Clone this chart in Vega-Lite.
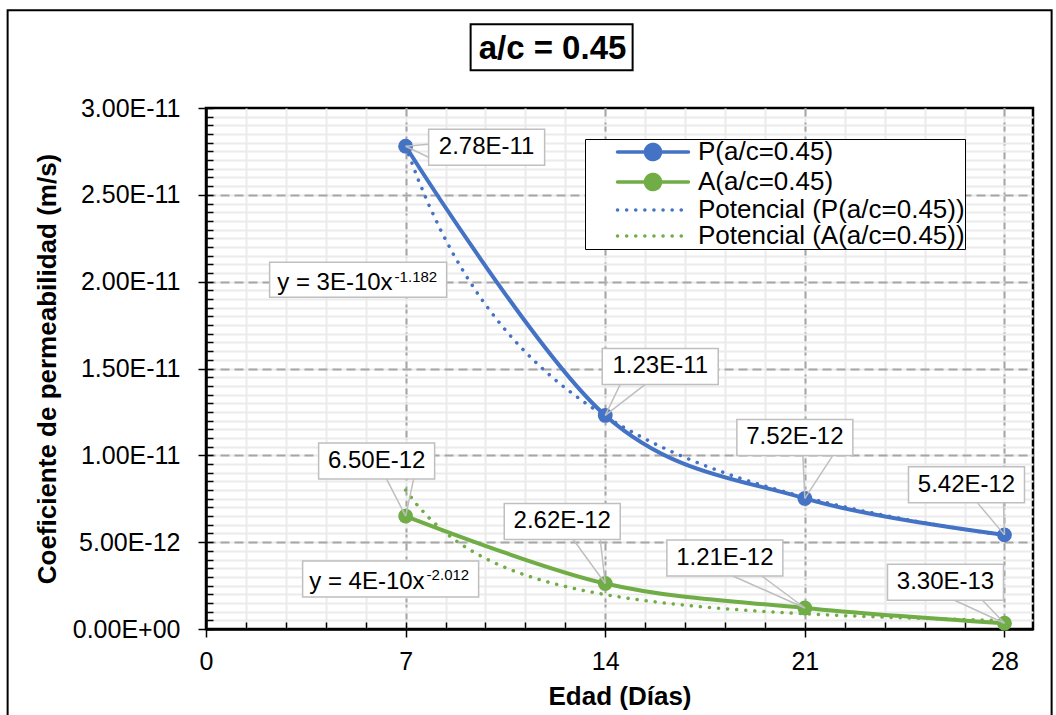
{
  "$schema": "https://vega.github.io/schema/vega-lite/v6.json",
  "width": 827,
  "height": 521,
  "autosize": {"type": "none"},
  "padding": {"left": 206, "top": 108, "right": 23, "bottom": 86},
  "background": "white",
  "config": {"font": "Liberation Sans", "view": {"stroke": "black", "strokeWidth": 2.5}},
  "title": {"text": "a/c = 0.45", "fontSize": 33, "font": "Liberation Sans", "fontWeight": "bold", "color": "black", "anchor": "middle", "frame": "group", "dx": -67, "offset": -57},
  "data": {"values": [
    {"dia": 7, "valor": 2.78e-11, "serie": "P(a/c=0.45)", "tend": "Potencial (P(a/c=0.45))"},
    {"dia": 14, "valor": 1.23e-11, "serie": "P(a/c=0.45)", "tend": "Potencial (P(a/c=0.45))"},
    {"dia": 21, "valor": 7.52e-12, "serie": "P(a/c=0.45)", "tend": "Potencial (P(a/c=0.45))"},
    {"dia": 28, "valor": 5.42e-12, "serie": "P(a/c=0.45)", "tend": "Potencial (P(a/c=0.45))"},
    {"dia": 7, "valor": 6.5e-12, "serie": "A(a/c=0.45)", "tend": "Potencial (A(a/c=0.45))"},
    {"dia": 14, "valor": 2.62e-12, "serie": "A(a/c=0.45)", "tend": "Potencial (A(a/c=0.45))"},
    {"dia": 21, "valor": 1.21e-12, "serie": "A(a/c=0.45)", "tend": "Potencial (A(a/c=0.45))"},
    {"dia": 28, "valor": 3.3e-13, "serie": "A(a/c=0.45)", "tend": "Potencial (A(a/c=0.45))"}
  ]},
  "resolve": {"axis": {"x": "independent", "y": "independent"}},
  "layer": [
    {
      "transform": [{"regression": "valor", "on": "dia", "groupby": ["tend"], "method": "pow", "extent": [7, 28]}],
      "mark": {"type": "line", "strokeWidth": 3.5, "strokeDash": [0.1, 9], "strokeCap": "round"},
      "encoding": {
        "x": {"field": "dia", "type": "quantitative", "scale": {"domain": [0, 29], "nice": false, "zero": false},
          "axis": {"orient": "bottom", "values": [1.4, 2.8, 4.2, 5.6, 7, 8.4, 9.8, 11.2, 12.6, 14, 15.4, 16.8, 18.2, 19.6, 21, 22.4, 23.8, 25.2, 26.6, 28],
            "grid": true, "gridColor": "#ebebeb", "gridWidth": 2, "labels": false, "domain": false, "ticks": true, "tickSize": -7, "tickColor": "black", "tickWidth": 1.5, "title": null}},
        "y": {"field": "valor", "type": "quantitative", "scale": {"domain": [0, 3e-11], "nice": false, "zero": false},
          "axis": {"orient": "left", "tickCount": 60, "grid": true,
            "gridColor": {"condition": {"test": "datum.value <= 1e-14 || datum.value >= 2.99e-11", "value": "rgba(0,0,0,0)"}, "value": "#ebebeb"},
            "gridWidth": 2, "labels": false, "domain": false, "ticks": true, "tickSize": -7, "tickColor": "black", "tickWidth": 1.5, "title": null}},
        "stroke": {"field": "tend", "type": "nominal", "legend": null,
          "scale": {"domain": ["Potencial (P(a/c=0.45))", "Potencial (A(a/c=0.45))"], "range": ["#4472C4", "#70AD47"]}}
      }
    },
    {
      "mark": {"type": "line", "interpolate": "cardinal", "strokeWidth": 4},
      "encoding": {
        "x": {"field": "dia", "type": "quantitative",
          "axis": {"orient": "bottom", "values": [0, 7, 14, 21, 28], "grid": true,
            "gridColor": {"condition": {"test": "datum.value <= 0.01", "value": "rgba(0,0,0,0)"}, "value": "#a6a6a6"},
            "gridDash": [9, 5], "gridWidth": 2, "domain": true, "domainColor": "black", "domainWidth": 2.5,
            "ticks": true, "tickSize": 8, "tickColor": "black", "tickWidth": 1.5,
            "labelFont": "Liberation Sans", "labelFontSize": 25, "labelColor": "black", "labelPadding": 12, "labelFlush": false, "labelOverlap": false,
            "title": "Edad (Días)", "titleFont": "Liberation Sans", "titleFontSize": 26, "titleFontWeight": "bold", "titleColor": "black", "titlePadding": 9}},
        "y": {"field": "valor", "type": "quantitative",
          "axis": {"orient": "left", "values": [0, 5e-12, 1e-11, 1.5e-11, 2e-11, 2.5e-11, 3e-11], "grid": true,
            "gridColor": {"condition": {"test": "datum.value <= 1e-14 || datum.value >= 2.99e-11", "value": "rgba(0,0,0,0)"}, "value": "#a6a6a6"},
            "gridDash": [9, 5], "gridWidth": 2, "domain": true, "domainColor": "black", "domainWidth": 2.5,
            "ticks": true, "tickSize": 8, "tickColor": "black", "tickWidth": 1.5,
            "labelExpr": "datum.value == 0 ? '0.00E+00' : upper(format(datum.value, '.2e'))",
            "labelFont": "Liberation Sans", "labelFontSize": 25, "labelColor": "black", "labelPadding": 18, "labelOverlap": false,
            "title": "Coeficiente de permeabilidad (m/s)", "titleFont": "Liberation Sans", "titleFontSize": 26, "titleFontWeight": "bold", "titleColor": "black", "titlePadding": 12}},
        "color": {"field": "serie", "type": "nominal",
          "scale": {"domain": ["P(a/c=0.45)", "A(a/c=0.45)", "Potencial (P(a/c=0.45))", "Potencial (A(a/c=0.45))"], "range": ["#4472C4", "#70AD47", "#4472C4", "#70AD47"]},
          "legend": {"orient": "none", "legendX": 379, "legendY": 31, "title": null,
            "labelFont": "Liberation Sans", "labelFontSize": 26, "labelColor": "black", "labelLimit": 0,
            "symbolSize": 400, "symbolStrokeWidth": 3.5, "strokeColor": "black", "fillColor": "white",
            "padding": 0, "rowPadding": 0, "labelOffset": 32, "symbolOffset": 55,
            "encode": {
              "symbols": {"update": {
              "shape": {"signal": "indexof(datum.value, 'Potencial') >= 0 ? 'M-3.55,0L3.55,0' : 'M-3.55,0L3.55,0M-0.75,0A0.75,0.75,0,1,0,0.75,0A0.75,0.75,0,1,0,-0.75,0'"},
              "fill": {"scale": "color", "field": "value"},
              "stroke": {"scale": "color", "field": "value"},
              "strokeDash": {"signal": "indexof(datum.value, 'Potencial') >= 0 ? [0.1, 9] : [1, 0]"},
              "strokeCap": {"value": "round"},
              "strokeWidth": {"value": 3.5},
              "size": {"value": 400},
              "opacity": {"value": 1}
            }}}}}
      }
    },
    {
      "mark": {"type": "circle", "size": 220, "opacity": 1},
      "encoding": {
        "x": {"field": "dia", "type": "quantitative", "axis": null},
        "y": {"field": "valor", "type": "quantitative", "axis": null},
        "fill": {"field": "serie", "type": "nominal", "legend": null,
          "scale": {"domain": ["P(a/c=0.45)", "A(a/c=0.45)"], "range": ["#4472C4", "#70AD47"]}}
      }
    },
    {
      "transform": [{"filter": "datum.serie == 'P(a/c=0.45)' && datum.dia == 7"}],
      "encoding": {"x": {"field": "dia", "type": "quantitative", "axis": null}, "y": {"field": "valor", "type": "quantitative", "axis": null}},
      "layer": [
        {"mark": {"type": "rect", "fill": null, "fillOpacity": 0, "stroke": "black", "strokeWidth": 2, "xOffset": 65, "x2Offset": 227, "yOffset": -122, "y2Offset": -76, "clip": false}, "encoding": {"x2": {"field": "dia"}, "y2": {"field": "valor"}}},
        {"mark": {"type": "rect", "fill": null, "fillOpacity": 0, "stroke": "black", "strokeWidth": 2, "xOffset": -398, "x2Offset": 646, "yOffset": -136, "y2Offset": 580, "clip": false}, "encoding": {"x2": {"field": "dia"}, "y2": {"field": "valor"}}},
        {"mark": {"type": "rule", "stroke": "#bfbfbf", "strokeWidth": 1.5, "x2Offset": 23, "y2Offset": -2}, "encoding": {"x2": {"field": "dia"}, "y2": {"field": "valor"}}},
        {"mark": {"type": "rule", "stroke": "#bfbfbf", "strokeWidth": 1.5, "x2Offset": 23, "y2Offset": 11}, "encoding": {"x2": {"field": "dia"}, "y2": {"field": "valor"}}},
        {"mark": {"type": "rect", "fill": "white", "stroke": "#bfbfbf", "strokeWidth": 1.5, "xOffset": 23, "x2Offset": 139, "yOffset": -17, "y2Offset": 19}, "encoding": {"x2": {"field": "dia"}, "y2": {"field": "valor"}}},
        {"mark": {"type": "text", "dx": 81, "dy": 1, "fontSize": 24, "font": "Liberation Sans", "color": "black", "text": {"expr": "upper(format(datum.valor, '.2e'))"}}},
        {"mark": {"type": "rect", "fill": "white", "stroke": "#bfbfbf", "strokeWidth": 1.5, "xOffset": -136, "x2Offset": 41, "yOffset": 116, "y2Offset": 151}, "encoding": {"x2": {"field": "dia"}, "y2": {"field": "valor"}}},
        {"mark": {"type": "text", "align": "right", "baseline": "alphabetic", "dx": -13, "dy": 144, "fontSize": 24, "font": "Liberation Sans", "color": "black", "text": "y = 3E-10x"}},
        {"mark": {"type": "text", "align": "left", "baseline": "alphabetic", "dx": -11, "dy": 136, "fontSize": 15, "font": "Liberation Sans", "color": "black", "text": "-1.182"}}
      ]
    },
    {
      "transform": [{"filter": "datum.serie == 'P(a/c=0.45)' && datum.dia == 14"}],
      "encoding": {"x": {"field": "dia", "type": "quantitative", "axis": null}, "y": {"field": "valor", "type": "quantitative", "axis": null}},
      "layer": [
        {"mark": {"type": "rule", "stroke": "#bfbfbf", "strokeWidth": 1.5, "x2Offset": 15, "y2Offset": -31}, "encoding": {"x2": {"field": "dia"}, "y2": {"field": "valor"}}},
        {"mark": {"type": "rule", "stroke": "#bfbfbf", "strokeWidth": 1.5, "x2Offset": 40, "y2Offset": -31}, "encoding": {"x2": {"field": "dia"}, "y2": {"field": "valor"}}},
        {"mark": {"type": "rect", "fill": "white", "stroke": "#bfbfbf", "strokeWidth": 1.5, "xOffset": -3, "x2Offset": 113, "yOffset": -67, "y2Offset": -31}, "encoding": {"x2": {"field": "dia"}, "y2": {"field": "valor"}}},
        {"mark": {"type": "text", "dx": 55, "dy": -49, "fontSize": 24, "font": "Liberation Sans", "color": "black", "text": {"expr": "upper(format(datum.valor, '.2e'))"}}}
      ]
    },
    {
      "transform": [{"filter": "datum.serie == 'P(a/c=0.45)' && datum.dia == 21"}],
      "encoding": {"x": {"field": "dia", "type": "quantitative", "axis": null}, "y": {"field": "valor", "type": "quantitative", "axis": null}},
      "layer": [
        {"mark": {"type": "rule", "stroke": "#bfbfbf", "strokeWidth": 1.5, "x2Offset": -2, "y2Offset": -43}, "encoding": {"x2": {"field": "dia"}, "y2": {"field": "valor"}}},
        {"mark": {"type": "rule", "stroke": "#bfbfbf", "strokeWidth": 1.5, "x2Offset": 28, "y2Offset": -43}, "encoding": {"x2": {"field": "dia"}, "y2": {"field": "valor"}}},
        {"mark": {"type": "rect", "fill": "white", "stroke": "#bfbfbf", "strokeWidth": 1.5, "xOffset": -68, "x2Offset": 48, "yOffset": -79, "y2Offset": -43}, "encoding": {"x2": {"field": "dia"}, "y2": {"field": "valor"}}},
        {"mark": {"type": "text", "dx": -10, "dy": -61, "fontSize": 24, "font": "Liberation Sans", "color": "black", "text": {"expr": "upper(format(datum.valor, '.2e'))"}}}
      ]
    },
    {
      "transform": [{"filter": "datum.serie == 'P(a/c=0.45)' && datum.dia == 28"}],
      "encoding": {"x": {"field": "dia", "type": "quantitative", "axis": null}, "y": {"field": "valor", "type": "quantitative", "axis": null}},
      "layer": [
        {"mark": {"type": "rule", "stroke": "#bfbfbf", "strokeWidth": 1.5, "x2Offset": -27, "y2Offset": -32}, "encoding": {"x2": {"field": "dia"}, "y2": {"field": "valor"}}},
        {"mark": {"type": "rule", "stroke": "#bfbfbf", "strokeWidth": 1.5, "x2Offset": -1, "y2Offset": -32}, "encoding": {"x2": {"field": "dia"}, "y2": {"field": "valor"}}},
        {"mark": {"type": "rect", "fill": "white", "stroke": "#bfbfbf", "strokeWidth": 1.5, "xOffset": -96, "x2Offset": 20, "yOffset": -68, "y2Offset": -32}, "encoding": {"x2": {"field": "dia"}, "y2": {"field": "valor"}}},
        {"mark": {"type": "text", "dx": -38, "dy": -50, "fontSize": 24, "font": "Liberation Sans", "color": "black", "text": {"expr": "upper(format(datum.valor, '.2e'))"}}}
      ]
    },
    {
      "transform": [{"filter": "datum.serie == 'A(a/c=0.45)' && datum.dia == 7"}],
      "encoding": {"x": {"field": "dia", "type": "quantitative", "axis": null}, "y": {"field": "valor", "type": "quantitative", "axis": null}},
      "layer": [
        {"mark": {"type": "rule", "stroke": "#bfbfbf", "strokeWidth": 1.5, "x2Offset": -19, "y2Offset": -37}, "encoding": {"x2": {"field": "dia"}, "y2": {"field": "valor"}}},
        {"mark": {"type": "rule", "stroke": "#bfbfbf", "strokeWidth": 1.5, "x2Offset": 8, "y2Offset": -37}, "encoding": {"x2": {"field": "dia"}, "y2": {"field": "valor"}}},
        {"mark": {"type": "rect", "fill": "white", "stroke": "#bfbfbf", "strokeWidth": 1.5, "xOffset": -87, "x2Offset": 29, "yOffset": -73, "y2Offset": -37}, "encoding": {"x2": {"field": "dia"}, "y2": {"field": "valor"}}},
        {"mark": {"type": "text", "dx": -29, "dy": -55, "fontSize": 24, "font": "Liberation Sans", "color": "black", "text": {"expr": "upper(format(datum.valor, '.2e'))"}}},
        {"mark": {"type": "rect", "fill": "white", "stroke": "#bfbfbf", "strokeWidth": 1.5, "xOffset": -103, "x2Offset": 73, "yOffset": 45, "y2Offset": 81}, "encoding": {"x2": {"field": "dia"}, "y2": {"field": "valor"}}},
        {"mark": {"type": "text", "align": "right", "baseline": "alphabetic", "dx": 19, "dy": 73, "fontSize": 24, "font": "Liberation Sans", "color": "black", "text": "y = 4E-10x"}},
        {"mark": {"type": "text", "align": "left", "baseline": "alphabetic", "dx": 21, "dy": 64, "fontSize": 15, "font": "Liberation Sans", "color": "black", "text": "-2.012"}}
      ]
    },
    {
      "transform": [{"filter": "datum.serie == 'A(a/c=0.45)' && datum.dia == 14"}],
      "encoding": {"x": {"field": "dia", "type": "quantitative", "axis": null}, "y": {"field": "valor", "type": "quantitative", "axis": null}},
      "layer": [
        {"mark": {"type": "rule", "stroke": "#bfbfbf", "strokeWidth": 1.5, "x2Offset": -32, "y2Offset": -44}, "encoding": {"x2": {"field": "dia"}, "y2": {"field": "valor"}}},
        {"mark": {"type": "rule", "stroke": "#bfbfbf", "strokeWidth": 1.5, "x2Offset": -5, "y2Offset": -44}, "encoding": {"x2": {"field": "dia"}, "y2": {"field": "valor"}}},
        {"mark": {"type": "rect", "fill": "white", "stroke": "#bfbfbf", "strokeWidth": 1.5, "xOffset": -101, "x2Offset": 15, "yOffset": -80, "y2Offset": -44}, "encoding": {"x2": {"field": "dia"}, "y2": {"field": "valor"}}},
        {"mark": {"type": "text", "dx": -43, "dy": -62, "fontSize": 24, "font": "Liberation Sans", "color": "black", "text": {"expr": "upper(format(datum.valor, '.2e'))"}}}
      ]
    },
    {
      "transform": [{"filter": "datum.serie == 'A(a/c=0.45)' && datum.dia == 21"}],
      "encoding": {"x": {"field": "dia", "type": "quantitative", "axis": null}, "y": {"field": "valor", "type": "quantitative", "axis": null}},
      "layer": [
        {"mark": {"type": "rule", "stroke": "#bfbfbf", "strokeWidth": 1.5, "x2Offset": -72, "y2Offset": -32}, "encoding": {"x2": {"field": "dia"}, "y2": {"field": "valor"}}},
        {"mark": {"type": "rule", "stroke": "#bfbfbf", "strokeWidth": 1.5, "x2Offset": -43, "y2Offset": -32}, "encoding": {"x2": {"field": "dia"}, "y2": {"field": "valor"}}},
        {"mark": {"type": "rect", "fill": "white", "stroke": "#bfbfbf", "strokeWidth": 1.5, "xOffset": -138, "x2Offset": -22, "yOffset": -68, "y2Offset": -32}, "encoding": {"x2": {"field": "dia"}, "y2": {"field": "valor"}}},
        {"mark": {"type": "text", "dx": -80, "dy": -50, "fontSize": 24, "font": "Liberation Sans", "color": "black", "text": {"expr": "upper(format(datum.valor, '.2e'))"}}}
      ]
    },
    {
      "transform": [{"filter": "datum.serie == 'A(a/c=0.45)' && datum.dia == 28"}],
      "encoding": {"x": {"field": "dia", "type": "quantitative", "axis": null}, "y": {"field": "valor", "type": "quantitative", "axis": null}},
      "layer": [
        {"mark": {"type": "rule", "stroke": "#bfbfbf", "strokeWidth": 1.5, "x2Offset": -50, "y2Offset": -23}, "encoding": {"x2": {"field": "dia"}, "y2": {"field": "valor"}}},
        {"mark": {"type": "rule", "stroke": "#bfbfbf", "strokeWidth": 1.5, "x2Offset": -22, "y2Offset": -23}, "encoding": {"x2": {"field": "dia"}, "y2": {"field": "valor"}}},
        {"mark": {"type": "rect", "fill": "white", "stroke": "#bfbfbf", "strokeWidth": 1.5, "xOffset": -117, "x2Offset": -1, "yOffset": -59, "y2Offset": -23}, "encoding": {"x2": {"field": "dia"}, "y2": {"field": "valor"}}},
        {"mark": {"type": "text", "dx": -59, "dy": -41, "fontSize": 24, "font": "Liberation Sans", "color": "black", "text": {"expr": "upper(format(datum.valor, '.2e'))"}}}
      ]
    }
  ]
}
